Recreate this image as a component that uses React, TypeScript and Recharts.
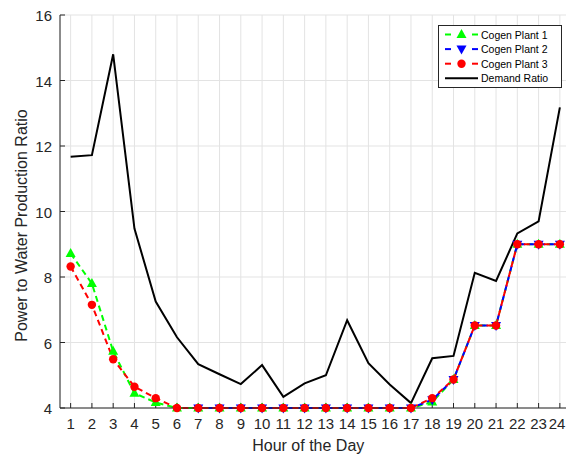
import { LineChart, Line, XAxis, YAxis, CartesianGrid, Legend } from 'recharts'

const hours = [1, 2, 3, 4, 5, 6, 7, 8, 9, 10, 11, 12, 13, 14, 15, 16, 17, 18, 19, 20, 21, 22, 23, 24]
const demandRatio = [11.67, 11.72, 14.8, 9.48, 7.25, 6.16, 5.34, 5.03, 4.73, 5.31, 4.34, 4.75, 5.0, 6.68, 5.37, 4.72, 4.15, 5.52, 5.59, 8.13, 7.88, 9.33, 9.7, 13.18]
const cogenPlant1 = [8.72, 7.8, 5.73, 4.45, 4.17, 4, 4, 4, 4, 4, 4, 4, 4, 4, 4, 4, 4, 4.18, 4.87, 6.52, 6.52, 9, 9, 9]
const cogenPlant2 = [null, null, null, null, null, null, 4, 4, 4, 4, 4, 4, 4, 4, 4, 4, 4, 4.25, 4.87, 6.52, 6.52, 9, 9, 9]
const cogenPlant3 = [8.32, 7.15, 5.49, 4.65, 4.3, 4, 4, 4, 4, 4, 4, 4, 4, 4, 4, 4, 4, 4.3, 4.87, 6.52, 6.52, 9, 9, 9]
const yTicks = [4, 6, 8, 10, 12, 14, 16]

const data = hours.map((h, i) => ({
  hour: h,
  p1: cogenPlant1[i],
  p2: cogenPlant2[i],
  p3: cogenPlant3[i],
  demand: demandRatio[i],
}))

const INK = '#262626'
const FONT = '"Liberation Sans", Arial, Helvetica, sans-serif'

// marker shapes
function Marker({ kind, cx, cy, color }: { kind: string; cx: number; cy: number; color: string }) {
  if (kind === 'up')
    return <polygon points={`${cx},${cy - 5.5} ${cx - 5},${cy + 3.5} ${cx + 5},${cy + 3.5}`} fill={color} />
  if (kind === 'down')
    return <polygon points={`${cx},${cy + 5.5} ${cx - 5},${cy - 3.5} ${cx + 5},${cy - 3.5}`} fill={color} />
  return <circle cx={cx} cy={cy} r={4.2} fill={color} />
}

const makeDot = (kind: string, color: string, id: string) => (p: any) => {
  if (p.cx == null || p.cy == null || p.value == null) return <g key={`${id}-${p.index}`} />
  return (
    <g key={`${id}-${p.index}`}>
      <Marker kind={kind} cx={p.cx} cy={p.cy} color={color} />
    </g>
  )
}

const legendItems = [
  { name: 'Cogen Plant 1', color: '#00ff00', kind: 'up', dashed: true },
  { name: 'Cogen Plant 2', color: '#0000ff', kind: 'down', dashed: true },
  { name: 'Cogen Plant 3', color: '#ff0000', kind: 'circle', dashed: true },
  { name: 'Demand Ratio', color: '#000000', kind: '', dashed: false },
]

function LegendBox() {
  return (
    <svg width={124} height={63} style={{ display: 'block' }}>
      <rect x={0.5} y={0.5} width={123} height={62} fill="#fff" stroke={INK} />
      {legendItems.map((it, i) => {
        const y = 9.5 + i * 14.6
        return (
          <g key={it.name}>
            {it.dashed ? (
              <>
                <line x1={7} x2={13} y1={y} y2={y} stroke={it.color} strokeWidth={2} />
                <line x1={34} x2={40} y1={y} y2={y} stroke={it.color} strokeWidth={2} />
                <Marker kind={it.kind} cx={23.5} cy={y} color={it.color} />
              </>
            ) : (
              <line x1={7} x2={40} y1={y} y2={y} stroke={it.color} strokeWidth={2} />
            )}
            <text x={43} y={y} dominantBaseline="central" fontSize={10.5} fill="#000" fontFamily={FONT}>
              {it.name}
            </text>
          </g>
        )
      })}
    </svg>
  )
}

const emptyTick = () => <g />

// bottom tick label; the last one is nudged so it stays inside the picture
function HourTick(props: any) {
  const { x, y, payload } = props
  const tx = Math.min(x, 557)
  return (
    <text x={tx} y={y} dy="0.71em" textAnchor="middle" fontSize={15} fill={INK}>
      {payload.value}
    </text>
  )
}

export default function App() {
  return (
    <div
      style={{
        position: 'absolute',
        left: 0,
        top: 0,
        width: 566,
        height: 456,
        overflow: 'hidden',
        background: '#fff',
        fontFamily: FONT,
      }}
    >
      <LineChart width={580} height={456} data={data} margin={{ top: 15, right: 9.5, bottom: 0, left: 0 }}>
        <CartesianGrid stroke="#e3e3e3" strokeWidth={1} />
        <XAxis
          dataKey="hour"
          type="number"
          domain={[0.5, 24.5]}
          ticks={hours}
          interval={0}
          height={48}
          tickSize={-5}
          tickMargin={15}
          axisLine={{ stroke: INK }}
          tickLine={{ stroke: INK }}
          tick={<HourTick />}
          label={(props: any) => {
            const vb = props.viewBox
            return (
              <text x={vb.x + vb.width / 2 - 7} y={451} textAnchor="middle" fontSize={16} fill={INK}>
                Hour of the Day
              </text>
            )
          }}
        />
        <XAxis
          xAxisId="top"
          orientation="top"
          dataKey="hour"
          type="number"
          domain={[0.5, 24.5]}
          ticks={hours}
          interval={0}
          height={0}
          tickSize={-5}
          axisLine={{ stroke: INK }}
          tickLine={{ stroke: INK }}
          tick={emptyTick}
        />
        <YAxis
          type="number"
          domain={[4, 16]}
          ticks={yTicks}
          interval={0}
          width={60}
          tickSize={-5}
          tickMargin={13}
          axisLine={{ stroke: INK }}
          tickLine={{ stroke: INK }}
          tick={{ fill: INK, fontSize: 15, dy: 1 }}
          label={() => {
            const cy = 225.5
            return (
              <text x={27} y={cy} transform={`rotate(-90, 27, ${cy})`} textAnchor="middle" fontSize={16} fill={INK}>
                Power to Water Production Ratio
              </text>
            )
          }}
        />
        <YAxis
          yAxisId="right"
          orientation="right"
          type="number"
          domain={[4, 16]}
          ticks={yTicks}
          width={0}
          tickSize={-5}
          axisLine={{ stroke: INK }}
          tickLine={{ stroke: INK }}
          tick={emptyTick}
        />
        <Line
          dataKey="p1"
          stroke="#00ff00"
          strokeWidth={2}
          strokeDasharray="6 4"
          dot={makeDot('up', '#00ff00', 'p1')}
          isAnimationActive={false}
        />
        <Line
          dataKey="p2"
          stroke="#0000ff"
          strokeWidth={2}
          strokeDasharray="6 4"
          dot={makeDot('down', '#0000ff', 'p2')}
          isAnimationActive={false}
        />
        <Line
          dataKey="p3"
          stroke="#ff0000"
          strokeWidth={2}
          strokeDasharray="6 4"
          dot={makeDot('circle', '#ff0000', 'p3')}
          isAnimationActive={false}
        />
        <Line dataKey="demand" stroke="#000000" strokeWidth={2} dot={false} isAnimationActive={false} />
        <Legend
          layout="vertical"
          align="center"
          verticalAlign="middle"
          wrapperStyle={{ top: 25, left: 438, width: 124, height: 63 }}
          content={() => <LegendBox />}
        />
      </LineChart>
    </div>
  )
}
